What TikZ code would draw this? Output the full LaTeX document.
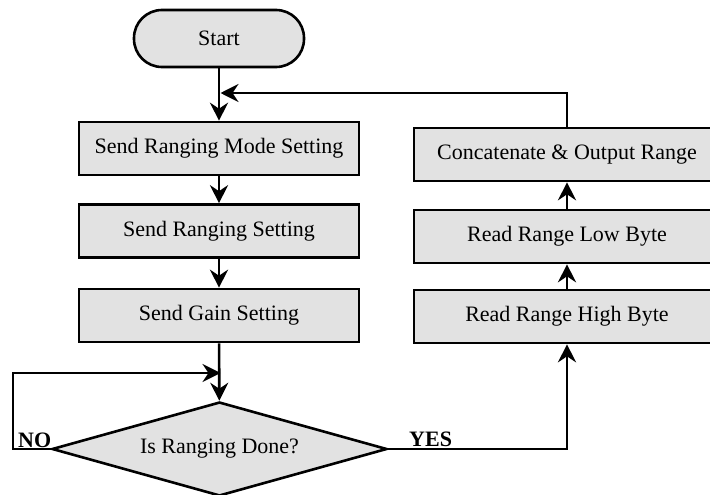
\documentclass[tikz,border=0pt]{standalone}
\usepackage{fontspec}
\setmainfont{Liberation Serif}
\usetikzlibrary{shapes.geometric,arrows.meta}
\definecolor{boxfill}{RGB}{226,226,226}
\begin{document}
\begin{tikzpicture}[x=1pt,y=-1pt,
  every node/.style={font=\fontsize{22}{26}\selectfont},
  proc/.style={draw, line width=2.6pt, fill=boxfill, minimum width=280pt, minimum height=53pt, inner sep=0pt},
  rproc/.style={proc, minimum width=306pt},
  flow/.style={line width=2.6pt, -{Stealth[length=18pt,width=18pt,inset=6pt]}},
  lbl/.style={font=\bfseries\fontsize{22}{26}\selectfont, inner sep=0pt, anchor=base west}]
\clip (0,0) rectangle (710,495);
% left column
\node[draw, line width=2.6pt, fill=boxfill, rounded corners=28pt, minimum width=170pt, minimum height=57pt] (start) at (219,38.5) {Start};
\node[proc] (b1) at (219,148.5) {Send Ranging Mode Setting};
\node[proc] (b2) at (219,231) {Send Ranging Setting};
\node[proc] (b3) at (219,315.5) {Send Gain Setting};
\node[draw, line width=2.6pt, fill=boxfill, diamond, aspect=3.56, minimum width=335pt, minimum height=94pt, inner sep=0pt] (dia) at (219.5,449) {Is Ranging Done?};
% right column
\node[rproc] (cat) at (567,154.5) {Concatenate \& Output Range};
\node[rproc] (lo) at (567,236.5) {Read Range Low Byte};
\node[rproc] (hi) at (567,316.5) {Read Range High Byte};
% labels
\node[lbl] (no) at (18,447) {NO};
\node[lbl] (yes) at (409,446) {YES};
% coordinates
\coordinate (fb) at (220.5,93);
\coordinate (nol) at (13,373);
\coordinate (noend) at (220.5,373);
% connectors
\draw[flow] (start) -- (b1);
\draw[flow] (b1) -- (b2);
\draw[flow] (b2) -- (b3);
\draw[flow] (b3) -- (dia);
\draw[flow] (cat.north) -- (cat.north |- fb) -- (fb);
\draw[flow] (hi) -- (lo);
\draw[flow] (lo) -- (cat);
\draw[flow] (dia.east) -| (hi.south);
\draw[flow] (dia.west) -- (dia.west -| nol) -- (nol) -- (noend);
\end{tikzpicture}
\end{document}
